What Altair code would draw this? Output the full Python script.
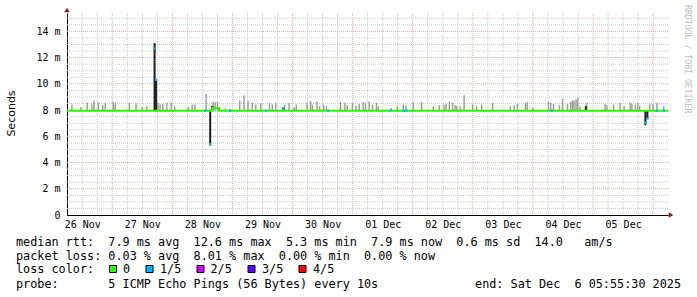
import json
import altair as alt
import pandas as pd

# ---------------- data (hours since 26 Nov 2025 00:00, values in ms) ----------------
T_START = 5.925    # 26 Nov 05:55:30
T_END = 245.925    # 06 Dec 05:55:30
Y_MAX = 15.4

day_labels = ["26 Nov", "27 Nov", "28 Nov", "29 Nov", "30 Nov",
              "01 Dec", "02 Dec", "03 Dec", "04 Dec", "05 Dec"]
label_hours = [12 + 24 * i for i in range(len(day_labels))]
y_ticks = [0, 2, 4, 6, 8, 10, 12, 14]

# median rtt line (step)
median_hours = [5.925, 63.9, 66.6, 245.925]
median_vals = [7.95, 8.15, 7.95, 7.95]

# grey smoke: top of ping spread above the median
smoke_hours = [7.9, 11.5, 14.0, 15.9, 16.7, 18.4, 20.2, 21.2, 24.4, 25.2, 30.8, 33.5,
               35.9, 37.8, 42.3, 43.1, 44.2, 45.8, 47.5, 48.9, 54.3, 55.9, 57.0, 61.5,
               64.3, 65.1, 66.0, 69.2, 70.8, 74.9, 76.6, 78.2, 79.9, 81.3, 83.3, 86.8,
               87.9, 89.3, 92.8, 94.6, 96.6, 97.5, 101.8, 103.2, 103.9, 105.8, 106.8,
               108.4, 109.5, 115.1, 116.9, 117.8, 119.9, 121.3, 122.6, 124.2, 125.1,
               126.6, 127.9, 129.5, 130.2, 135.5, 137.8, 140.2, 141.3, 144.2, 147.5,
               152.2, 154.6, 156.5, 157.3, 158.6, 159.9, 160.9, 161.5, 162.9, 164.5,
               167.9, 169.5, 171.5, 175.9, 182.9, 184.5, 185.8, 189.0, 189.7, 191.9,
               198.2, 199.1, 200.2, 202.6, 203.8, 205.8, 207.1, 207.8, 208.4, 209.2,
               209.9, 210.8, 213.5, 220.8, 221.5, 224.2, 226.8, 228.4, 230.8, 231.5,
               232.9, 233.8, 234.6, 238.6, 239.9, 241.5, 244.2]
smoke_top = [8.42, 8.22, 8.57, 8.42, 8.73, 8.60, 8.37, 8.55, 8.63, 8.55, 8.57, 8.52,
             8.24, 8.27, 8.55, 8.42, 8.47, 8.55, 8.57, 8.30, 8.24, 8.42, 8.42, 9.24,
             8.65, 8.60, 8.65, 8.17, 8.10, 8.73, 9.13, 8.73, 8.55, 8.42, 8.50, 8.55,
             8.42, 8.57, 8.42, 8.55, 8.22, 8.42, 8.57, 8.68, 8.42, 8.68, 8.30,
             8.42, 8.30, 8.63, 8.55, 8.37, 8.55, 8.32, 8.47, 8.63, 8.57,
             8.63, 8.42, 8.55, 8.30, 8.15, 8.30, 8.42, 8.34, 8.63, 8.63,
             8.30, 8.37, 8.42, 8.47, 8.63, 8.55, 8.37, 8.30, 8.30, 9.13,
             8.42, 8.30, 8.42, 8.55, 8.30, 8.37, 8.47, 8.55, 8.63, 8.17,
             8.63, 8.55, 8.47, 8.37, 8.85, 8.47, 8.63, 8.73, 8.73, 8.80,
             8.93, 8.30, 8.55, 8.47, 8.37, 8.42, 8.55, 8.30, 8.55, 8.47,
             8.42, 8.55, 8.30, 8.47, 8.47, 8.55, 8.30]

# dark (dense) smoke where the rtt jumped
spike_hours = [40.9, 41.5, 63.1, 63.9, 92.3, 213.1, 236.9, 237.7]
spike_low = [7.95, 7.95, 5.3, 7.95, 7.95, 7.95, 6.85, 7.35]
spike_high = [13.1, 10.3, 7.95, 8.3, 8.2, 8.3, 7.95, 7.95]

# buckets with 1/5 packet loss (median drawn in loss colour)
loss_hours = [40.9, 41.5, 63.1, 236.9, 237.7, 61.1, 71.1, 85.5, 92.3, 110.3,
              135.1, 140.3, 141.5, 199.5, 241.5, 244.3]
loss_vals = [12.7, 10.3, 5.4, 7.05, 7.35, 7.95, 7.95, 7.95, 8.1, 7.95,
             7.95, 7.95, 7.95, 7.95, 7.95, 7.95]

major_x = [24 * i for i in range(1, 11)]
minor_x = [h for h in range(12, 246, 6) if h % 24 != 0]
major_y = [2, 4, 6, 8, 10, 12, 14]
minor_y = [v / 2 for v in range(1, 31) if v % 4 != 0]

legend_line1 = "median rtt:  7.9 ms avg  12.6 ms max  5.3 ms min  7.9 ms now  0.6 ms sd  14.0   am/s"
legend_line2 = "packet loss: 0.03 % avg  8.01 % max  0.00 % min  0.00 % now"
legend_line3 = "loss color:"
legend_line4 = "probe:       5 ICMP Echo Pings (56 Bytes) every 10s"
legend_end = "end: Sat Dec  6 05:55:30 2025"
loss_labels = ["0", "1/5", "2/5", "3/5", "4/5"]
loss_colors = ["#26ff00", "#00b8ff", "#d400ff", "#5e00ff", "#ff0000"]
watermark = "RRDTOOL / TOBI OETIKER"

# ---------------- layout ----------------
W, H = 601, 202
LEFT, TOP = 67, 13
MONO = "DejaVu Sans Mono"

xs = alt.Scale(domain=[T_START, T_END], nice=False, zero=False)
ys = alt.Scale(domain=[0, Y_MAX], nice=False)

x_axis = alt.Axis(values=label_hours,
                  labelExpr=json.dumps(day_labels) + "[round((datum.value - 12) / 24)]",
                  grid=False, ticks=False, tickSize=0, domain=True, domainColor="black",
                  domainWidth=1, labelFont=MONO, labelFontSize=10, labelColor="black",
                  labelPadding=4, labelAngle=0, title=None, labelFlush=False,
                  labelOverlap=False)
y_axis = alt.Axis(values=y_ticks,
                  labelExpr="datum.value == 0 ? '0\u00a0\u00a0' : datum.value + '\u00a0m'",
                  grid=False, ticks=False, tickSize=0, domain=True, domainColor="black",
                  domainWidth=1, labelFont=MONO, labelFontSize=10, labelColor="black",
                  labelPadding=7, title="Seconds", titleFont="DejaVu Sans",
                  titleFontSize=11, titleFontWeight="normal", titleColor="black",
                  titleX=11 - LEFT, titleY=113 - TOP, titleAngle=270,
                  titleAlign="center", titleBaseline="middle", labelFlush=False)


def X(f):
    return alt.X(f, type="quantitative", scale=xs, axis=x_axis)


def Y(f):
    return alt.Y(f, type="quantitative", scale=ys, axis=y_axis)


layers = []
layers.append(alt.Chart(pd.DataFrame({"h": minor_x})).mark_rule(
    color="#cccccc", strokeDash=[1, 1], strokeWidth=1).encode(x=X("h")))
layers.append(alt.Chart(pd.DataFrame({"v": minor_y})).mark_rule(
    color="#cccccc", strokeDash=[1, 1], strokeWidth=1).encode(y=Y("v")))
layers.append(alt.Chart(pd.DataFrame({"h": major_x})).mark_rule(
    color="#e8a8a8", strokeDash=[1, 1], strokeWidth=1).encode(x=X("h")))
layers.append(alt.Chart(pd.DataFrame({"v": major_y})).mark_rule(
    color="#e8a8a8", strokeDash=[1, 1], strokeWidth=1).encode(y=Y("v")))

smoke = pd.DataFrame({"h": smoke_hours, "top": smoke_top, "base": [7.95] * len(smoke_hours)})
layers.append(alt.Chart(smoke).mark_rule(color="#999999", strokeWidth=1.4).encode(
    x=X("h"), y=Y("base"), y2="top"))

spikes = pd.DataFrame({"h": spike_hours, "lo": spike_low, "hi": spike_high})
layers.append(alt.Chart(spikes).mark_rule(color="#1e1e1e", strokeWidth=2).encode(
    x=X("h"), y=Y("lo"), y2="hi"))

med = pd.DataFrame({"h": median_hours, "v": median_vals})
layers.append(alt.Chart(med).mark_line(color="#26ff00", strokeWidth=2,
                                       interpolate="step-after").encode(x=X("h"), y=Y("v")))

loss = pd.DataFrame({"h": loss_hours, "v": loss_vals})
layers.append(alt.Chart(loss).mark_square(color="#00b8ff", size=5, opacity=1).encode(
    x=X("h"), y=Y("v")))

# axis arrows
layers.append(alt.Chart(pd.DataFrame({"a": [0]})).mark_point(
    shape="triangle-up", filled=True, size=30, color="#8b1a1a", opacity=1).encode(
    x=alt.value(0), y=alt.value(-3)))
layers.append(alt.Chart(pd.DataFrame({"a": [0]})).mark_point(
    shape="triangle-right", filled=True, size=30, color="#8b1a1a", opacity=1).encode(
    x=alt.value(W + 3), y=alt.value(H)))


def txt(s, x, y, size=11.8, color="black", align="left", font=MONO, angle=0):
    return alt.Chart(pd.DataFrame({"t": [s.replace(" ", "\u00a0")]})).mark_text(
        align=align, baseline="middle", font=font, fontSize=size, color=color,
        angle=angle).encode(text="t:N", x=alt.value(x - LEFT), y=alt.value(y - TOP))


layers.append(txt(legend_line1, 16, 241.5))
layers.append(txt(legend_line2, 16, 255.5))
layers.append(txt(legend_line3, 16, 269))
layers.append(txt(legend_line4, 16, 283.5))
layers.append(txt(legend_end, 681, 283.5, align="right"))

box_left = [109, 145.5, 196.5, 247.5, 298.5]
text_left = [123, 160, 210.5, 262, 313]
for bl, tl, lab, col in zip(box_left, text_left, loss_labels, loss_colors):
    layers.append(alt.Chart(pd.DataFrame({"a": [0]})).mark_rect(
        fill=col, stroke="black", strokeWidth=1).encode(
        x=alt.value(bl - LEFT + 0.5), x2=alt.value(bl - LEFT + 7.5),
        y=alt.value(265 - TOP + 0.5), y2=alt.value(272 - TOP + 0.5)))
    layers.append(txt(lab, tl, 269))

layers.append(txt(watermark, 687, 5, size=8.2, color="#c0c0c0", angle=90))

chart = alt.layer(*layers).properties(
    width=W, height=H,
    padding={"left": LEFT, "top": TOP, "right": 697 - LEFT - W, "bottom": 297 - TOP - H},
    autosize=alt.AutoSizeParams(type="none"),
    background="white",
).configure_view(stroke=None)

chart.save("out.html", embed_options={"renderer": "svg", "actions": False})
